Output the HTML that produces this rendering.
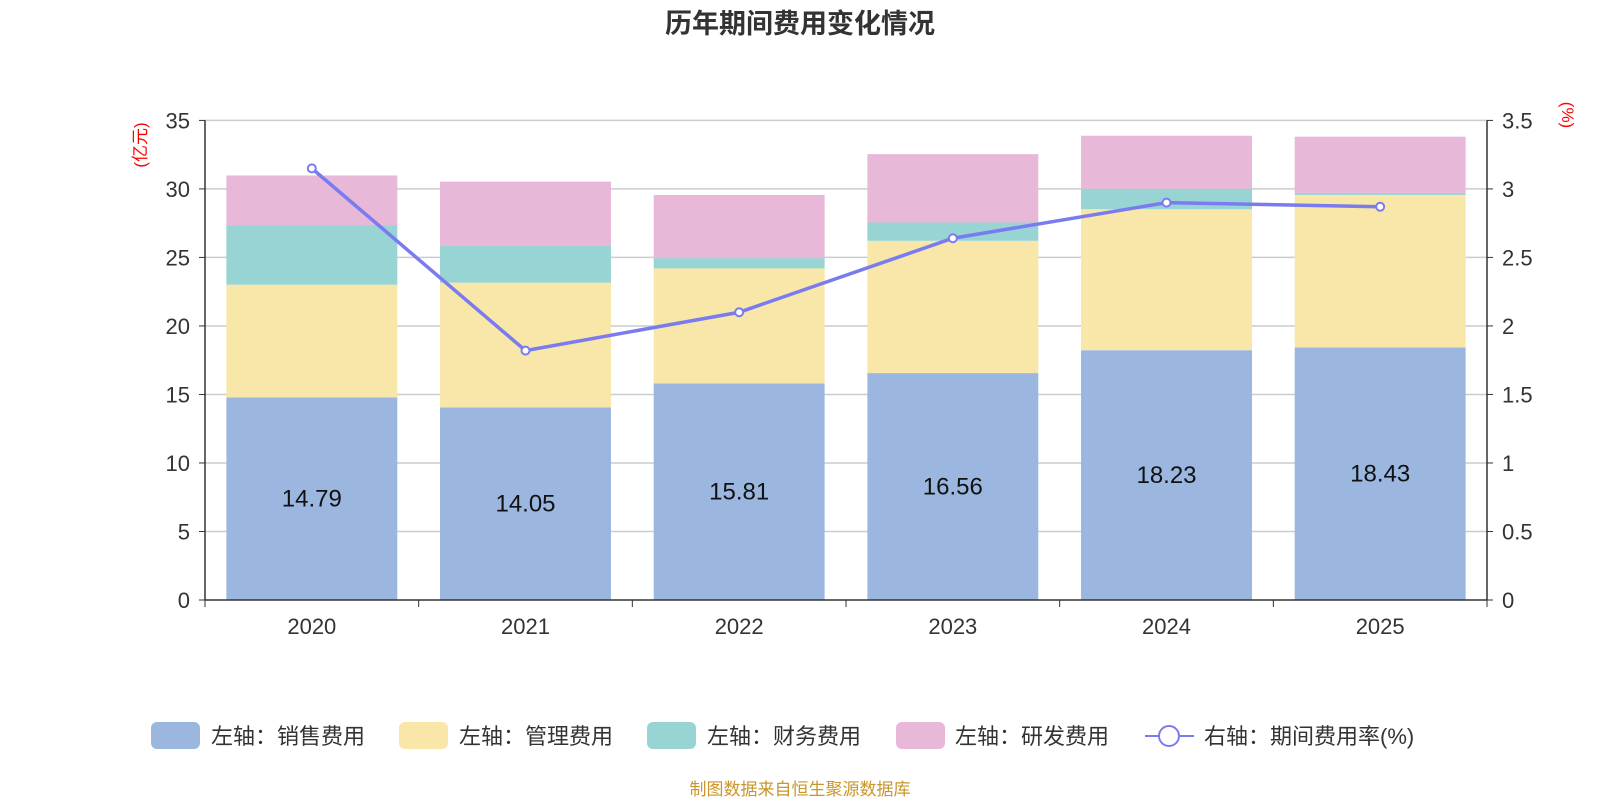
<!DOCTYPE html>
<html><head><meta charset="utf-8"><style>
body{margin:0;background:#fff}
svg{display:block;font-family:"Liberation Sans","Noto Sans CJK SC",sans-serif}
</style></head><body>
<svg id="chart" width="1600" height="800">
<text x="800" y="33" text-anchor="middle" font-size="27" font-weight="bold" fill="#333">历年期间费用变化情况</text>
<text transform="translate(146,145) rotate(-90)" text-anchor="middle" font-size="17" fill="#f00">(亿元)</text>
<text transform="translate(1562,115) rotate(90)" text-anchor="middle" font-size="17" fill="#f00">(%)</text>
<g id="grid"></g><g id="bars"></g><g id="axes"></g><g id="line"></g>
<g>
<rect x="151" y="722" width="49" height="27" rx="6" fill="#9bb7e0"/>
<text x="211" y="744" font-size="22" fill="#333">左轴：销售费用</text>
<rect x="399" y="722" width="49" height="27" rx="6" fill="#f8e7a8"/>
<text x="459" y="744" font-size="22" fill="#333">左轴：管理费用</text>
<rect x="647" y="722" width="49" height="27" rx="6" fill="#98d4d4"/>
<text x="707" y="744" font-size="22" fill="#333">左轴：财务费用</text>
<rect x="896" y="722" width="49" height="27" rx="6" fill="#e7b8d8"/>
<text x="955" y="744" font-size="22" fill="#333">左轴：研发费用</text>
<line x1="1145" y1="736" x2="1194" y2="736" stroke="#7b7bf0" stroke-width="2"/>
<circle cx="1169" cy="736" r="10" fill="#fff" stroke="#7b7bf0" stroke-width="2"/>
<text x="1204" y="744" font-size="22" fill="#333">右轴：期间费用率(%)</text>
</g>
<text x="800" y="795" text-anchor="middle" font-size="17" fill="#c8962a">制图数据来自恒生聚源数据库</text>
</svg>
<script>
const categories=["2020","2021","2022","2023","2024","2025"];
const sales=[14.79,14.05,15.81,16.56,18.23,18.43];
const admin=[8.22,9.11,8.39,9.65,10.29,11.13];
const finance=[4.32,2.68,0.75,1.34,1.49,0.15];
const rd=[3.65,4.69,4.61,4.99,3.87,4.10];
const rate=[3.15,1.82,2.10,2.64,2.90,2.87];
const leftTicks=[0,5,10,15,20,25,30,35];
const rightTicks=["0","0.5","1","1.5","2","2.5","3","3.5"];
const NS="http://www.w3.org/2000/svg";
const L=205,R=1487,T=120.4,B=600;
const yL=v=>B-(v/35)*(B-T);
const yR=v=>B-(v/3.5)*(B-T);
const cw=(R-L)/categories.length;
const xC=i=>L+cw*(i+0.5);
function mk(tag,attrs,parent){const e=document.createElementNS(NS,tag);for(const k in attrs)e.setAttribute(k,attrs[k]);document.getElementById(parent).appendChild(e);return e;}
leftTicks.forEach((t,i)=>{
 const y=yL(t);
 if(t>0){const g=mk('line',{x1:L,x2:R,y1:y,y2:y,stroke:'#ccc','stroke-width':1.5},'grid');
 
 }
 const lt=mk('text',{x:L-15,y:y+8,'text-anchor':'end','font-size':22,fill:'#333'},'axes');lt.textContent=t;
 
 
 const rt=mk('text',{x:R+15,y:y+8,'font-size':22,fill:'#333'},'axes');rt.textContent=rightTicks[i];
 
 
 mk('line',{x1:L-6,x2:L,y1:y,y2:y,stroke:'#333'},'axes');
 mk('line',{x1:R,x2:R+6,y1:y,y2:y,stroke:'#333'},'axes');
});
mk('line',{x1:L,x2:L,y1:T,y2:B,stroke:'#333','stroke-width':1.5},'axes');
mk('line',{x1:R,x2:R,y1:T,y2:B,stroke:'#333','stroke-width':1.5},'axes');
mk('line',{x1:L,x2:R,y1:B,y2:B,stroke:'#333','stroke-width':1.5},'axes');
for(let i=0;i<=categories.length;i++)mk('line',{x1:L+cw*i,x2:L+cw*i,y1:B,y2:B+7,stroke:'#333'},'axes');
const series=[[sales,'#9bb7e0','sales'],[admin,'#f8e7a8','admin'],[finance,'#98d4d4','finance'],[rd,'#e7b8d8','rd']];
const bw=cw*0.8;
categories.forEach((c,i)=>{
 let base=0;
 series.forEach(([arr,col,nm])=>{
  const v=arr[i];
  const r=mk('rect',{x:xC(i)-bw/2,y:yL(base+v),width:bw,height:yL(base)-yL(base+v),fill:col},'bars');
  
  
  base+=v;
 });
 const lb=mk('text',{x:xC(i),y:yL(sales[i]/2)+8,'text-anchor':'middle','font-size':24,fill:'#111'},'bars');lb.textContent=sales[i].toFixed(2);
 
 
 const xl=mk('text',{x:xC(i),y:B+34,'text-anchor':'middle','font-size':22,fill:'#333'},'axes');xl.textContent=c;
 
 
});
const pl=mk('polyline',{points:rate.map((v,i)=>xC(i)+','+yR(v)).join(' '),fill:'none',stroke:'#7b7bf0','stroke-width':3.5},'line');


rate.forEach((v,i)=>{
 const p=mk('circle',{cx:xC(i),cy:yR(v),r:4,fill:'#fff',stroke:'#7b7bf0','stroke-width':2},'line');
 
 
});
</script>
</body></html>
